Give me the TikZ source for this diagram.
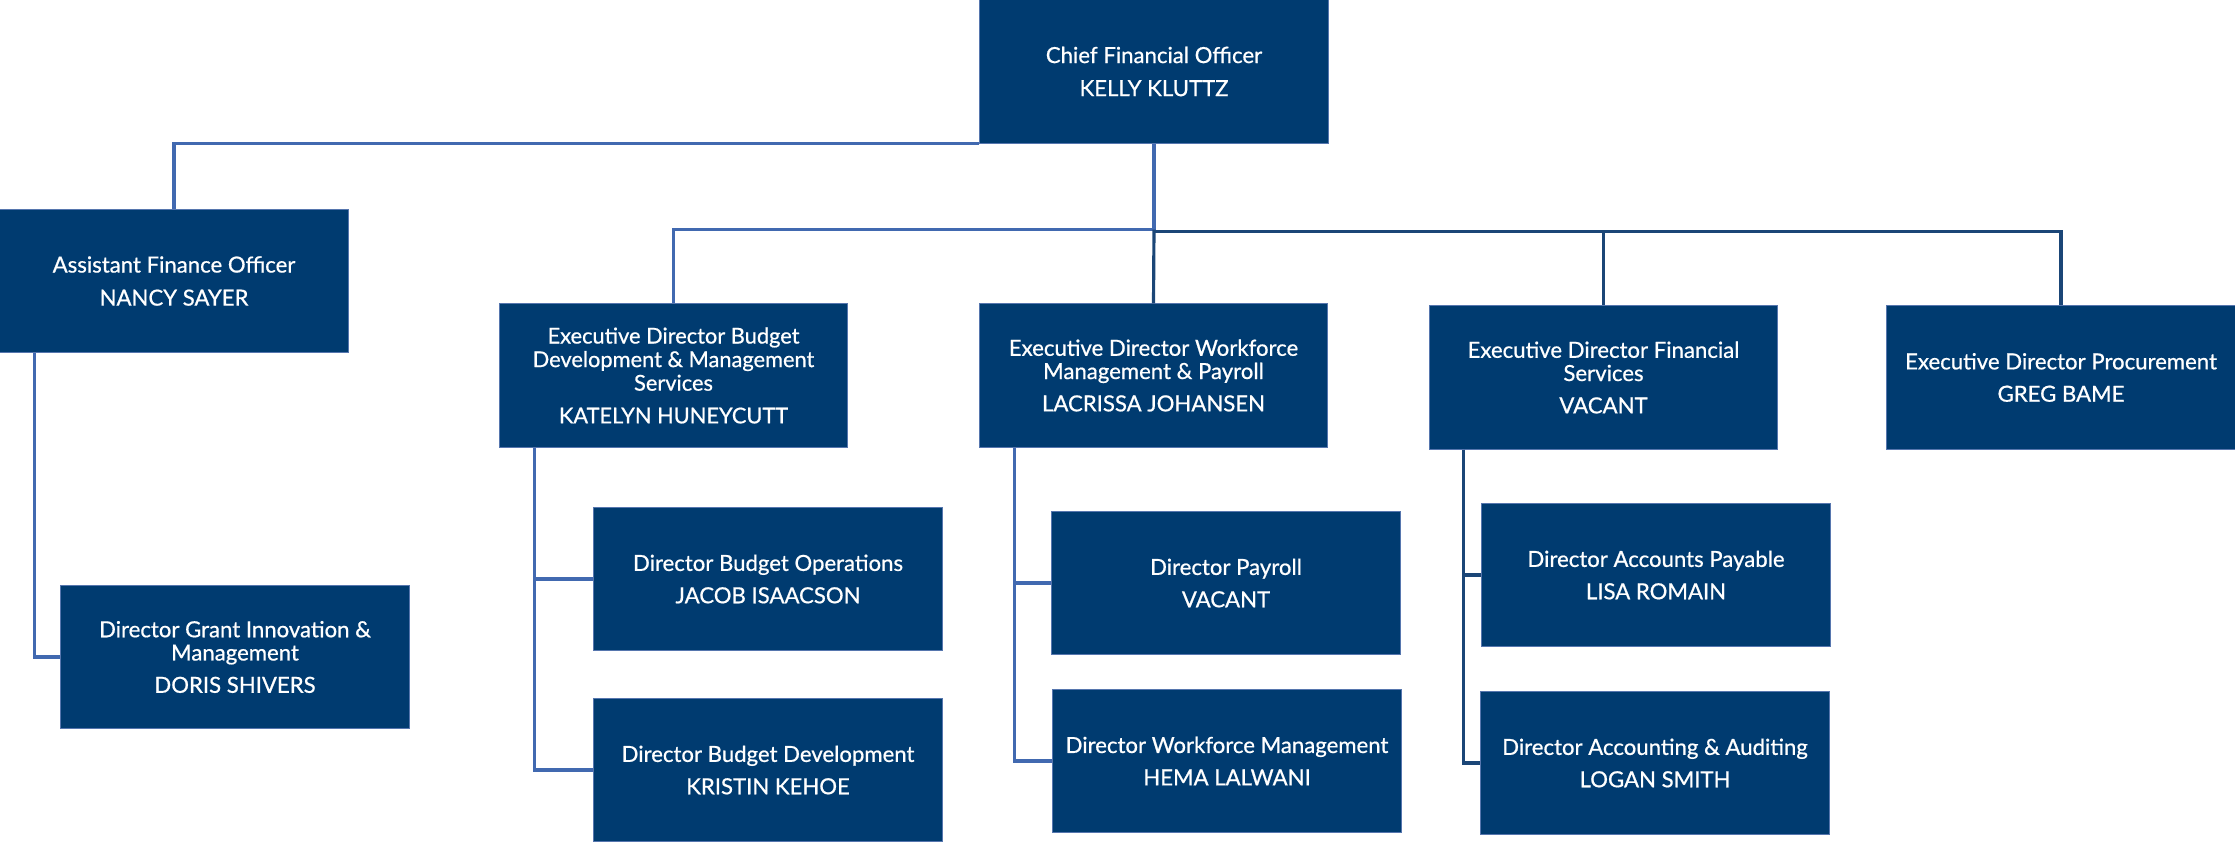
\documentclass[tikz,border=0pt]{standalone}
\usepackage{fontspec}
\setmainfont{Lato}
\newfontfamily\boxfont{Lato}[FakeBold=0.7]
\usepackage{tikz}
\usetikzlibrary{positioning,calc}

\definecolor{boxblue}{HTML}{003B70}
\definecolor{edgeblue}{HTML}{5676AE}
\definecolor{lineblue}{HTML}{4169B0}
\definecolor{linenavy}{HTML}{1B4677}

\begin{document}
\begin{tikzpicture}[x=0.01cm, y=-0.01cm,
    post/.style={draw=edgeblue, line width=0.3pt, fill=boxblue, text=white,
        minimum width=3.48cm, minimum height=1.43cm, inner sep=0pt, align=center,
        font=\boxfont\fontsize{6.3}{6.6}\selectfont},
    toppost/.style={post, font=\boxfont\fontsize{6.3}{7}\selectfont},
    link/.style={draw=lineblue, line width=0.9pt},
    navylink/.style={draw=linenavy, line width=0.9pt}]

    \useasboundingbox (0,0) rectangle (2235,842);

    % top
    \node[toppost] (cfo) at (1154,71.5) {Chief Financial Officer\\[2.4pt]KELLY KLUTTZ};
    \node[toppost] (afo) at (174,281) {Assistant Finance Officer\\[2.4pt]NANCY SAYER};
    \node[post] (dgim) at (235,657) {Director Grant Innovation \&\\Management\\[2.6pt]DORIS SHIVERS};

    % executive directors
    \node[post, font=\boxfont\fontsize{6.2}{6.7}\selectfont] (bud) at (673.5,375.5) {Executive Director Budget\\Development \& Management\\Services\\[2.6pt]KATELYN HUNEYCUTT};
    \node[post] (wfm) at (1153.5,375.5) {Executive Director Workforce\\Management \& Payroll\\[2.6pt]LACRISSA JOHANSEN};
    \node[post] (fin) at (1603.5,377.5) {Executive Director Financial\\Services\\[2.6pt]VACANT};
    \node[post] (proc) at (2061,377.5) {Executive Director Procurement\\[2.6pt]GREG BAME};

    % directors
    \node[post] (bops) at (768,579) {Director Budget Operations\\[2.6pt]JACOB ISAACSON};
    \node[post] (bdev) at (768,770) {Director Budget Development\\[2.6pt]KRISTIN KEHOE};
    \node[post] (pay) at (1226,583) {Director Payroll\\[2.6pt]VACANT};
    \node[post] (wfdir) at (1227,761) {Director Workforce Management\\[2.6pt]HEMA LALWANI};
    \node[post] (ap) at (1656,575) {Director Accounts Payable\\[2.6pt]LISA ROMAIN};
    \node[post] (aa) at (1655,763) {Director Accounting \& Auditing\\[2.6pt]LOGAN SMITH};

    % connectors
    \coordinate (hub) at ($(cfo.south)+(0,86)$);
    \draw[link] (cfo.south west) -| (afo.north);
    \draw[link] (cfo.south) -- (hub) -| (bud.north);
    \draw[navylink] (hub) -- (wfm.north);
    \draw[navylink] ($(hub)+(0,2)$) -| (fin.north);
    \draw[navylink] ($(hub)+(0,2)$) -| (proc.north);

    \draw[link] ($(afo.south west)+(35,0)$) |- (dgim.west);
    \draw[link] ($(bud.south west)+(36,0)$) |- (bops.west);
    \draw[link] ($(bud.south west)+(36,0)$) |- (bdev.west);
    \draw[link] ($(wfm.south west)+(36,0)$) |- (pay.west);
    \draw[link] ($(wfm.south west)+(36,0)$) |- (wfdir.west);
    \draw[navylink] ($(fin.south west)+(35,0)$) |- (ap.west);
    \draw[navylink] ($(fin.south west)+(35,0)$) |- (aa.west);

\end{tikzpicture}
\end{document}
